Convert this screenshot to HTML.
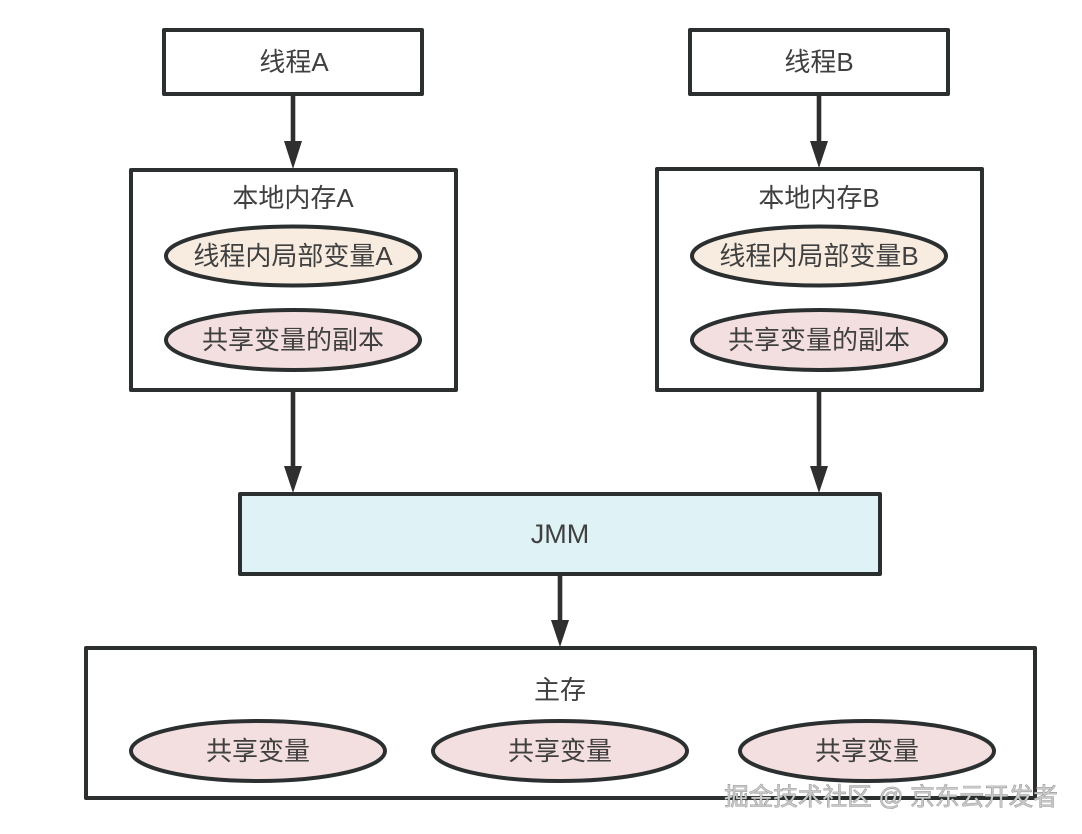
<!DOCTYPE html>
<html><head><meta charset="utf-8"><style>
html,body{margin:0;padding:0;background:#fff;width:1082px;height:834px;overflow:hidden}
svg{display:block}
text{font-family:"Liberation Sans","Noto Sans CJK SC",sans-serif;font-size:26px;fill:#404040;text-anchor:middle}
.b{fill:#fff;stroke:#2b2f30;stroke-width:4;stroke-linejoin:round}
.e{stroke:#2b2f30;stroke-width:4}
.l{stroke:#2f2f2f;stroke-width:4.6}
.h{fill:#2f2f2f}
</style></head><body>
<svg width="1082" height="834" viewBox="0 0 1082 834" xmlns="http://www.w3.org/2000/svg">
<rect class="b" x="164" y="30" width="258" height="64"/>
<rect class="b" x="690" y="30" width="258" height="64"/>
<rect class="b" x="131" y="170" width="325" height="220"/>
<rect class="b" x="657" y="169" width="325" height="221"/>
<rect class="b" x="240" y="494" width="640" height="80" style="fill:#dff3f6"/>
<rect class="b" x="86" y="648" width="949" height="150"/>

<line class="l" x1="293" y1="95" x2="293" y2="145"/><polygon class="h" points="284,141 302,141 293,169"/>
<line class="l" x1="819" y1="95" x2="819" y2="145"/><polygon class="h" points="810,141 828,141 819,168"/>
<line class="l" x1="293" y1="391" x2="293" y2="470"/><polygon class="h" points="284,466 302,466 293,493"/>
<line class="l" x1="819" y1="391" x2="819" y2="470"/><polygon class="h" points="810,466 828,466 819,493"/>
<line class="l" x1="560" y1="575" x2="560" y2="625"/><polygon class="h" points="551,620 569,620 560,647"/>

<ellipse class="e" cx="293" cy="256" rx="127" ry="29.5" fill="#f8ece0"/>
<ellipse class="e" cx="293" cy="340" rx="127" ry="30" fill="#f3dfdf"/>
<ellipse class="e" cx="819" cy="256" rx="127" ry="29.5" fill="#f8ece0"/>
<ellipse class="e" cx="819" cy="340" rx="127" ry="30" fill="#f3dfdf"/>
<ellipse class="e" cx="258" cy="751" rx="127" ry="30" fill="#f3dfdf"/>
<ellipse class="e" cx="560" cy="751" rx="127" ry="30" fill="#f3dfdf"/>
<ellipse class="e" cx="867" cy="751" rx="127" ry="30" fill="#f3dfdf"/>

<text x="294" y="71">线程A</text>
<text x="819" y="71">线程B</text>
<text x="293" y="207">本地内存A</text>
<text x="819" y="207">本地内存B</text>
<text x="293" y="265">线程内局部变量A</text>
<text x="819" y="265">线程内局部变量B</text>
<text x="293" y="349">共享变量的副本</text>
<text x="819" y="349">共享变量的副本</text>
<text x="560" y="543" style="font-size:27px">JMM</text>
<text x="560" y="699">主存</text>
<text x="258" y="760">共享变量</text>
<text x="560" y="760">共享变量</text>
<text x="867" y="760">共享变量</text>
<text x="891" y="805" style="fill:#c8c8c8;stroke:#6f6f6f;stroke-width:.6px;font-size:24.6px;paint-order:stroke">掘金技术社区 @ 京东云开发者</text>
</svg>
</body></html>
